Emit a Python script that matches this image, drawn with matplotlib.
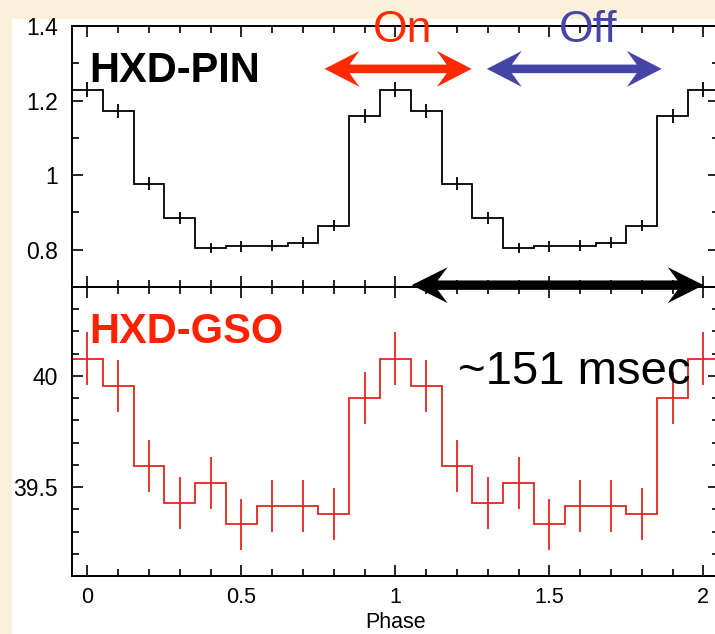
import numpy as np
import matplotlib
matplotlib.use("Agg")
import matplotlib.pyplot as plt
from matplotlib.patches import Polygon, Rectangle
from matplotlib.ticker import MultipleLocator
from matplotlib.transforms import IdentityTransform

plt.rcParams["font.family"] = ["Liberation Sans", "DejaVu Sans"]

# phase-folded light curve, two cycles shown
phase = [0.0, 0.1, 0.2, 0.3, 0.4, 0.5, 0.6, 0.7, 0.8, 0.9,
         1.0, 1.1, 1.2, 1.3, 1.4, 1.5, 1.6, 1.7, 1.8, 1.9, 2.0]

pin_rate = [1.229, 1.171, 0.977, 0.885, 0.804, 0.809, 0.811, 0.819, 0.864, 1.158,
            1.229, 1.171, 0.977, 0.885, 0.804, 0.809, 0.811, 0.819, 0.864, 1.158,
            1.229]
pin_err = [0.020, 0.019, 0.017, 0.015, 0.014, 0.014, 0.014, 0.014, 0.015, 0.019,
           0.020, 0.019, 0.017, 0.015, 0.014, 0.014, 0.014, 0.014, 0.015, 0.019,
           0.020]

gso_rate = [40.078, 39.955, 39.595, 39.427, 39.520, 39.332, 39.414, 39.414, 39.380, 39.900,
            40.078, 39.955, 39.595, 39.427, 39.520, 39.332, 39.414, 39.414, 39.380, 39.900,
            40.078]
gso_err = [0.120, 0.118, 0.118, 0.117, 0.117, 0.115, 0.117, 0.117, 0.117, 0.118,
           0.120, 0.118, 0.118, 0.117, 0.117, 0.115, 0.117, 0.117, 0.117, 0.118,
           0.120]

bin_half = 0.05
pin_color = "black"
gso_color = "#E3261D"
on_color = "#FF2A00"
off_color = "#4545A8"


def style_axes(ax, major_y, minor_y):
    for sp in ax.spines.values():
        sp.set_linewidth(1.4)
    ax.xaxis.set_major_locator(MultipleLocator(0.5))
    ax.xaxis.set_minor_locator(MultipleLocator(0.1))
    ax.yaxis.set_major_locator(MultipleLocator(major_y))
    ax.yaxis.set_minor_locator(MultipleLocator(minor_y))
    ax.tick_params(which="both", direction="in", top=True, right=True,
                   width=1.2, colors="black")
    ax.tick_params(which="major", length=8)
    ax.tick_params(which="minor", length=5)
    ax.tick_params(axis="y", pad=10, labelsize=16.5)
    ax.tick_params(axis="x", pad=8, labelsize=15.5)


def plot_curve(ax, rate, err, color):
    x = np.array(phase)
    edges = np.append(x - bin_half, x[-1] + bin_half)
    ax.stairs(rate, edges, baseline=None, color=color, linewidth=1.3)
    ax.errorbar(x, rate, yerr=err, fmt="none", ecolor=color, elinewidth=1.3)


def double_arrow(fig, ax, x0, x1, y, color, half=4.3, head=35, barb=18, neck=25):
    xa, ya = ax.transData.transform((x0, y))
    xb, _ = ax.transData.transform((x1, y))
    verts = [(xb, ya), (xb - head, ya + barb), (xb - neck, ya + half),
             (xa + neck, ya + half), (xa + head, ya + barb), (xa, ya),
             (xa + head, ya - barb), (xa + neck, ya - half),
             (xb - neck, ya - half), (xb - head, ya - barb)]
    fig.patches.append(Polygon(verts, closed=True, transform=IdentityTransform(),
                               facecolor=color, edgecolor="none", zorder=5))


fig = plt.figure(figsize=(7.15, 6.34), dpi=100, facecolor="#FBF0DA")
fig.patches.append(Rectangle((12 / 715, 0), 1, 1 - 19 / 634, transform=fig.transFigure,
                             facecolor="white", edgecolor="none", zorder=-10))

ax_pin = fig.add_axes([0.1007, 0.5473, 0.9045, 0.4117])
ax_gso = fig.add_axes([0.1007, 0.0915, 0.9045, 0.4558], sharex=ax_pin)

plot_curve(ax_pin, pin_rate, pin_err, pin_color)
plot_curve(ax_gso, gso_rate, gso_err, gso_color)

ax_pin.set_xlim(-0.05, 2.05)
ax_pin.set_ylim(0.7, 1.4)
ax_gso.set_ylim(39.1, 40.4)

style_axes(ax_pin, 0.2, 0.1)
style_axes(ax_gso, 0.5, 0.1)
ax_pin.tick_params(axis="x", labelbottom=False)
ax_pin.set_yticks([0.8, 1.0, 1.2, 1.4], ["0.8", "1", "1.2", "1.4"])
ax_gso.set_yticks([39.5, 40.0], ["39.5", "40"])
ax_gso.set_xticks([0, 0.5, 1, 1.5, 2], ["0", "0.5", "1", "1.5", "2"])
ax_gso.set_xlabel("Phase", fontsize=15.5, labelpad=3)

ax_pin.text(0.026, 0.785, "HXD-PIN", transform=ax_pin.transAxes, fontsize=30,
            fontweight="bold", color="black", va="baseline", ha="left")
ax_gso.text(0.026, 0.806, "HXD-GSO", transform=ax_gso.transAxes, fontsize=30,
            fontweight="bold", color="#FF2200", va="baseline", ha="left")

ax_pin.text(1.025, 1.358, "On", fontsize=32, color=on_color, ha="center", va="baseline")
ax_pin.text(1.626, 1.358, "Off", fontsize=32, color=off_color, ha="center", va="baseline")
ax_gso.text(1.205, 39.962, "~151 msec", fontsize=34, color="black",
            ha="left", va="baseline", zorder=6)

double_arrow(fig, ax_pin, 0.770, 1.248, 1.285, on_color)
double_arrow(fig, ax_pin, 1.297, 1.865, 1.285, off_color)
double_arrow(fig, ax_pin, 1.053, 2.001, 0.705, "black", half=4.7, head=36, barb=18, neck=26)

fig.savefig("out.png", dpi=100)
